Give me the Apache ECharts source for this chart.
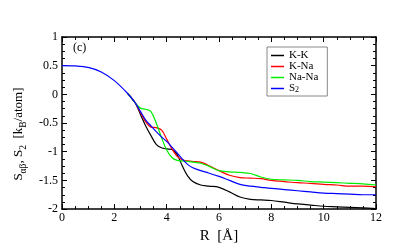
<!DOCTYPE html>
<html><head><meta charset="utf-8">
<script src="https://cdn.jsdelivr.net/npm/echarts@6/dist/echarts.min.js"></script>
<style>html,body{margin:0;padding:0;background:#fff}#c{width:407px;height:249px}</style>
</head><body><div id="c"></div>
<script>
const xValues = [0,0.5,1,1.5,2,2.5,2.8,3.0,3.2,3.4,3.6,3.8,4.0,4.2,4.4,4.6,4.8,5.0,5.3,5.6,6.0,6.4,6.8,7.2,7.6,8.0,8.5,9.0,9.5,10,10.5,11,11.5,12];
const sharedStart = [0.5,0.495,0.47,0.39,0.24,0.02,-0.15];
const kkTail = [-0.35,-0.55,-0.72,-0.87,-0.93,-0.95,-0.96,-1.05,-1.25,-1.42,-1.52,-1.58,-1.6,-1.62,-1.7,-1.79,-1.83,-1.84,-1.85,-1.88,-1.91,-1.93,-1.95,-1.96,-1.97,-1.98,-1.99];
const knaTail = [-0.32,-0.48,-0.57,-0.58,-0.62,-0.78,-0.95,-1.08,-1.14,-1.16,-1.17,-1.18,-1.24,-1.33,-1.41,-1.45,-1.46,-1.47,-1.5,-1.52,-1.54,-1.55,-1.57,-1.58,-1.6,-1.6,-1.61];
const nanaTail = [-0.24,-0.26,-0.3,-0.5,-0.75,-0.97,-1.1,-1.15,-1.16,-1.17,-1.18,-1.2,-1.25,-1.33,-1.35,-1.36,-1.38,-1.44,-1.48,-1.49,-1.5,-1.52,-1.53,-1.54,-1.55,-1.56,-1.58];
const s2Tail = [-0.3,-0.45,-0.55,-0.65,-0.74,-0.82,-0.92,-1.02,-1.13,-1.22,-1.28,-1.33,-1.37,-1.43,-1.5,-1.57,-1.6,-1.62,-1.64,-1.66,-1.68,-1.7,-1.72,-1.73,-1.74,-1.75,-1.75];
const seriesNames = ['K-K','K-Na','Na-Na','S2'];
const seriesColors = ['#000000','#ff0000','#00ee00','#0000ff'];
const xTicks = {min:0,max:12,interval:2};
const yTicks = {min:-2,max:1,interval:0.5};

const tails = [kkTail, knaTail, nanaTail, s2Tail];
const FONT = '"Liberation Serif", "DejaVu Serif", serif';
const chart = echarts.init(document.getElementById('c'));
const axisCommon = {
  axisLine:{onZero:false,lineStyle:{color:'#000',width:1.5}},
  axisTick:{inside:true,length:5,lineStyle:{color:'#000',width:1}},
  minorTick:{show:true,splitNumber:4,length:3,lineStyle:{color:'#000',width:1}},
  splitLine:{show:false}
};
// the curves coincide before the split; only S2 (drawn on top) shows there
const firstShown = 5;
function buildData(i){
  const full = xValues.map((x,j)=>[x, j<sharedStart.length ? sharedStart[j] : tails[i][j-sharedStart.length]]);
  return i === 3 ? full : full.slice(firstShown);
}
chart.setOption({
  animation:false,
  grid:{left:62,right:31,top:37,bottom:38},
  legend:{
    data:seriesNames, orient:'vertical', left:267, top:47,
    itemWidth:13, itemHeight:1.5, itemGap:0, icon:'rect',
    borderColor:'#888', borderWidth:1, padding:[3,9,2,4],
    textStyle:{fontFamily:FONT,fontSize:11,color:'#000',lineHeight:11,
      rich:{a:{fontFamily:FONT,fontSize:11,color:'#000',lineHeight:11},sub:{fontFamily:FONT,fontSize:8,color:'#000',lineHeight:11,verticalAlign:'bottom',padding:[3,0,0,0]}}},
    formatter:n=> n==='S2' ? '{a|S}{sub|2}' : n
  },
  xAxis:[
    Object.assign({type:'value',min:xTicks.min,max:xTicks.max,interval:xTicks.interval,position:'bottom',
      name:'R  [Å]',nameLocation:'middle',nameGap:10,
      nameTextStyle:{fontFamily:FONT,fontSize:15,color:'#000'},
      axisLabel:{fontFamily:FONT,fontSize:12,color:'#000',margin:3}},axisCommon),
    Object.assign({type:'value',min:xTicks.min,max:xTicks.max,interval:xTicks.interval,position:'top',
      axisLabel:{show:false}},axisCommon)
  ],
  yAxis:[
    Object.assign({type:'value',min:yTicks.min,max:yTicks.max,interval:yTicks.interval,position:'left',
      name:'{a|S}{sub|αβ}{a|, S}{sub|2}{a|  [k}{sub|B}{a|/atom]}',nameLocation:'middle',nameGap:27,nameRotate:90,
      nameTextStyle:{padding:[0,22,0,0],rich:{a:{fontFamily:FONT,fontSize:13,color:'#000'},sub:{fontFamily:FONT,fontSize:9.5,color:'#000',padding:[9,0,0,0]}}},
      axisLabel:{fontFamily:FONT,fontSize:12,color:'#000',margin:4}},axisCommon),
    Object.assign({type:'value',min:yTicks.min,max:yTicks.max,interval:yTicks.interval,position:'right',
      axisLabel:{show:false}},axisCommon)
  ],
  graphic:[{type:'text',left:73,top:42,style:{text:'(c)',font:'12px '+FONT,fill:'#000'}}],
  series: seriesNames.map((n,i)=>({
    name:n, type:'line', showSymbol:false, smooth:0.35, z:2+i,
    lineStyle:{color:seriesColors[i],width:1.2}, itemStyle:{color:seriesColors[i]},
    data: buildData(i)
  }))
});
</script></body></html>
